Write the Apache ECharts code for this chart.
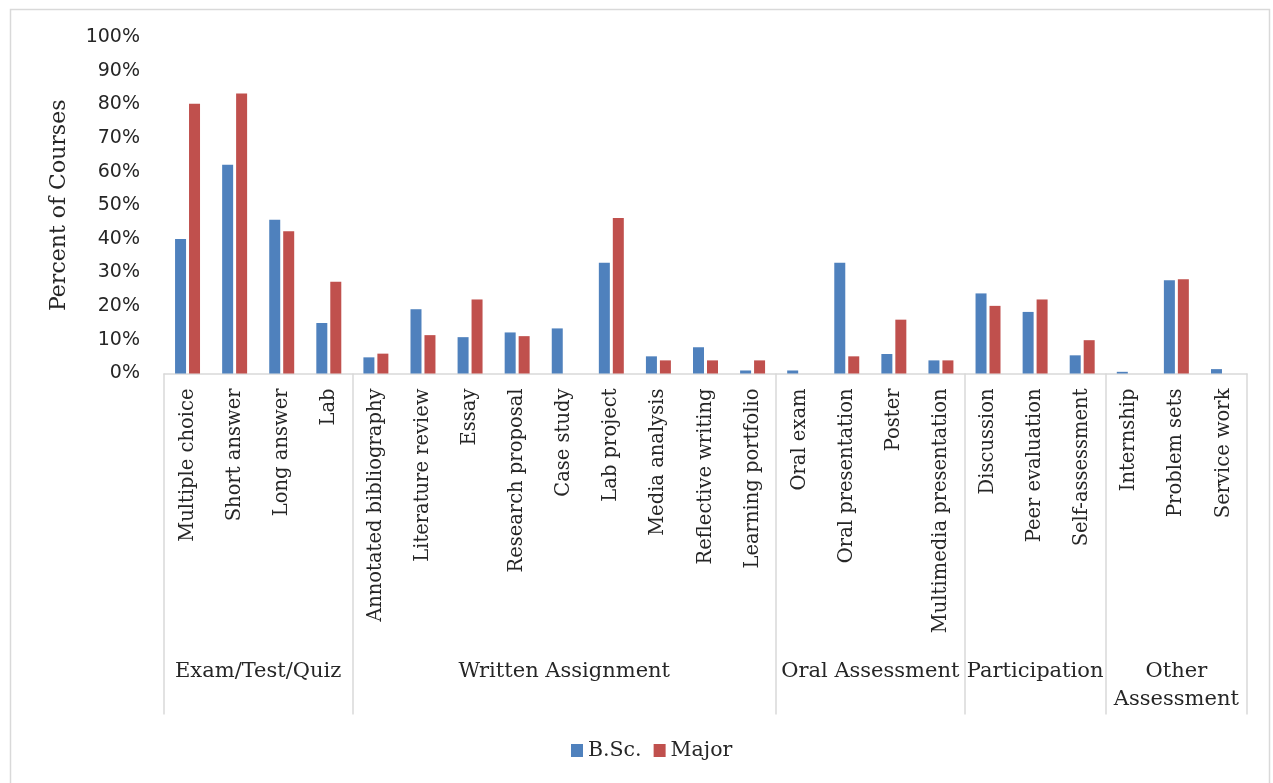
<!DOCTYPE html>
<html>
<head>
<meta charset="utf-8">
<script src="https://cdn.jsdelivr.net/npm/echarts@6/dist/echarts.min.js"></script>
<style>
html,body{margin:0;padding:0;background:#fff;}
#chart{width:1273px;height:783px;}
</style>
</head>
<body>
<div id="chart"></div>
<script>
var categories = ['Multiple choice','Short answer','Long answer','Lab',
	'Annotated bibliography','Literature review','Essay','Research proposal','Case study',
	'Lab project','Media analysis','Reflective writing','Learning portfolio',
	'Oral exam','Oral presentation','Poster','Multimedia presentation',
	'Discussion','Peer evaluation','Self-assessment',
	'Internship','Problem sets','Service work'];
var groupNames = ['Exam/Test/Quiz','Written Assignment','Oral Assessment','Participation','Other\nAssessment'];
var groupSizes = [4, 9, 4, 3, 3];
var bscValues = [40, 62, 45.7, 15, 4.8, 19.1, 10.8, 12.2, 13.4, 32.9, 5.1, 7.8, 0.9,
	0.9, 32.9, 5.8, 3.9, 23.8, 18.3, 5.4, 0.5, 27.7, 1.3];
var majorValues = [80.2, 83.2, 42.3, 27.3, 5.9, 11.4, 22, 11.1, 0, 46.2, 3.9, 3.9, 3.9,
	0, 5.1, 16, 3.9, 20.1, 22, 9.9, 0, 28, 0];

var serif = 'DejaVu Serif', sans = 'DejaVu Sans', txt = '#262626', lineCol = '#d9d9d9';

//group boundaries and centres on a 0..n scale
var bounds = [0], centres = [], centreName = {};
var acc = 0;
for (var i = 0; i < groupSizes.length; i++) {
	centres.push(acc + groupSizes[i] / 2);
	centreName[acc + groupSizes[i] / 2] = groupNames[i];
	acc += groupSizes[i];
	bounds.push(acc);
}

var chart = echarts.init(document.getElementById('chart'));
var option = {
	animation: false,
	graphic: [{
		type: 'rect', left: 8, top: 7, silent: true,
		shape: {width: 1259, height: 800},
		style: {fill: 'none', stroke: lineCol, lineWidth: 1.5}
	}],
	grid: {left: 164, right: 26, top: 37, bottom: 409.5},
	legend: {
		data: ['B.Sc.', 'Major'], left: 566, top: 735,
		icon: 'rect', itemWidth: 12, itemHeight: 13, itemGap: 12,
		textStyle: {fontFamily: serif, fontSize: 20.5, color: txt}
	},
	xAxis: [{
		type: 'category', data: categories,
		axisLine: {lineStyle: {color: lineCol, width: 1.5}},
		axisTick: {show: false},
		axisLabel: {rotate: 90, margin: 15, interval: 0, fontFamily: serif, fontSize: 19.5, color: txt}
	}, {
		type: 'value', min: 0, max: categories.length, position: 'bottom',
		axisLine: {show: false}, splitLine: {show: false},
		axisTick: {show: true, customValues: bounds, length: 341, lineStyle: {color: lineCol, width: 1.5}},
		axisLabel: {
			customValues: centres, margin: 284, fontFamily: serif, fontSize: 21, color: txt, lineHeight: 28,
			formatter: function (v) { return centreName[v] || ''; }
		}
	}],
	yAxis: {
		type: 'value', min: 0, max: 100, interval: 10,
		name: 'Percent of Courses', nameLocation: 'middle', nameGap: 94,
		nameTextStyle: {fontFamily: serif, fontSize: 22, color: txt},
		axisLine: {show: false}, axisTick: {show: false}, splitLine: {show: false},
		axisLabel: {margin: 24, fontFamily: sans, fontSize: 19, color: txt, formatter: '{value}%'}
	},
	series: [{
		name: 'B.Sc.', type: 'bar', data: bscValues, barWidth: 11, barGap: '27%',
		itemStyle: {color: '#4f81bd'}
	}, {
		name: 'Major', type: 'bar', data: majorValues, barWidth: 11,
		itemStyle: {color: '#c0504d'}
	}]
};
chart.setOption(option);
</script>
</body>
</html>
